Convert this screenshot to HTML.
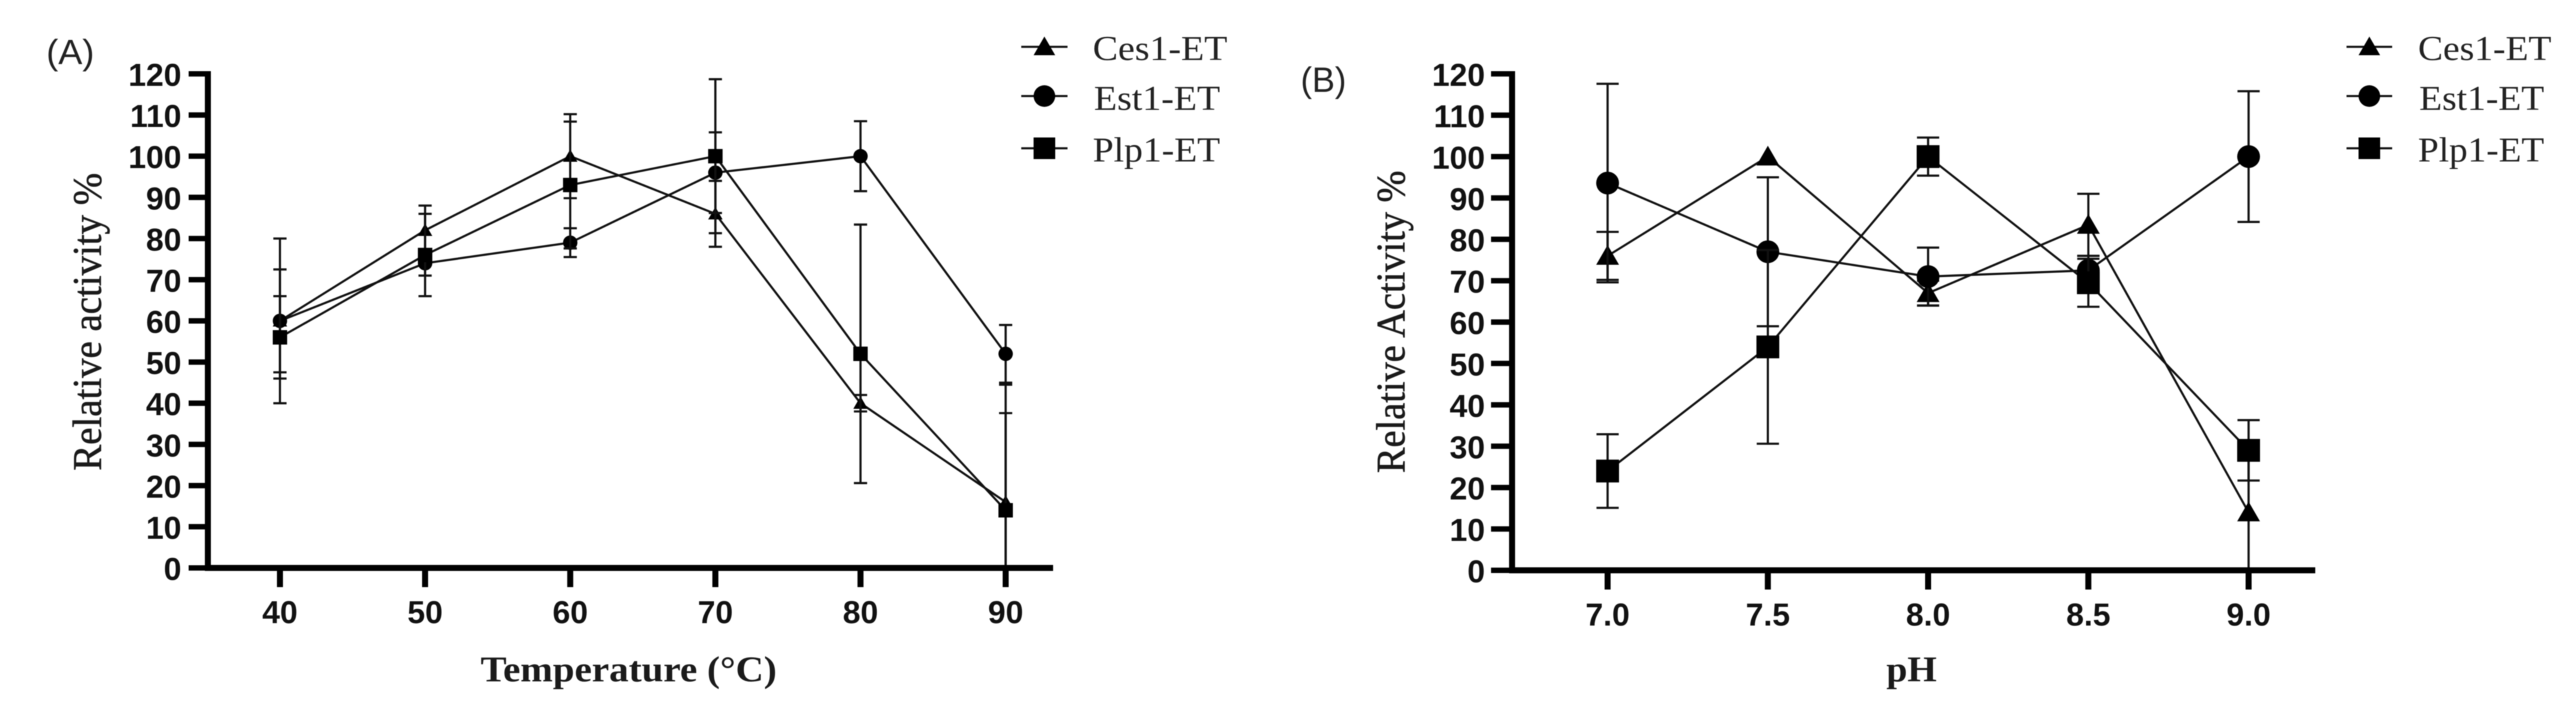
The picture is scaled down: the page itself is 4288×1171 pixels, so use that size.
<!DOCTYPE html>
<html lang="en">
<head>
<meta charset="utf-8">
<title>Relative activity vs temperature and pH</title>
<style>
html,body{margin:0;padding:0;background:#fff;width:4288px;height:1171px;overflow:hidden}
svg{display:block;filter:blur(0.7px)}
.tick{font-family:"Liberation Sans",sans-serif;font-weight:700;font-size:53px;fill:#111}
.title{font-family:"Liberation Serif",serif;font-size:60px;fill:#1a1a1a}
.y-title{font-family:"Liberation Serif",serif;font-size:68px;fill:#1a1a1a}
.legend-text{font-family:"Liberation Serif",serif;font-size:58px;fill:#222}
.panel-letter{font-family:"Liberation Sans",sans-serif;font-size:58px;fill:#222}
</style>
</head>
<body>
<svg id="figure" xmlns="http://www.w3.org/2000/svg" width="4288" height="1171" viewBox="0 0 4288 1171">
  <rect width="4288" height="1171" fill="#fff"/>
  <text class="panel-letter" x="77" y="107" textLength="80" lengthAdjust="spacingAndGlyphs">(A)</text>
  <text class="panel-letter" x="2165" y="153" textLength="76" lengthAdjust="spacingAndGlyphs">(B)</text>
  <g id="chart-a"></g>
  <g id="chart-b"></g>
  <text class="y-title" stroke="#1a1a1a" stroke-width="0.8" transform="translate(168,784) rotate(-90)" textLength="496" lengthAdjust="spacingAndGlyphs">Relative activity %</text>
  <text class="title" font-weight="700" x="800" y="1135" textLength="493" lengthAdjust="spacingAndGlyphs">Temperature (°C)</text>
  <text class="y-title" stroke="#1a1a1a" stroke-width="0.8" transform="translate(2338,788) rotate(-90)" textLength="504" lengthAdjust="spacingAndGlyphs">Relative Activity %</text>
  <text class="title" font-weight="700" x="3140" y="1135" textLength="84" lengthAdjust="spacingAndGlyphs">pH</text>
  <g id="legend-a">
    <text class="legend-text" x="1819" y="100" textLength="224" lengthAdjust="spacingAndGlyphs">Ces1-ET</text>
    <text class="legend-text" x="1821" y="183" textLength="210" lengthAdjust="spacingAndGlyphs">Est1-ET</text>
    <text class="legend-text" x="1819" y="269" textLength="212" lengthAdjust="spacingAndGlyphs">Plp1-ET</text>
  </g>
  <g id="legend-b">
    <text class="legend-text" x="4025" y="100" textLength="222" lengthAdjust="spacingAndGlyphs">Ces1-ET</text>
    <text class="legend-text" x="4027" y="183" textLength="208" lengthAdjust="spacingAndGlyphs">Est1-ET</text>
    <text class="legend-text" x="4025" y="269" textLength="210" lengthAdjust="spacingAndGlyphs">Plp1-ET</text>
  </g>
</svg>
<script>
// Shared axis values
const yTicks = [0, 10, 20, 30, 40, 50, 60, 70, 80, 90, 100, 110, 120];
const seriesNames = ['ces1', 'est1', 'plp1'];

// Panel A: temperature
const tempCategories = [40, 50, 60, 70, 80, 90];
const tempTickLabels = ['40', '50', '60', '70', '80', '90'];
const tempCes1 = [60, 82, 100, 86, 40, 16];
const tempEst1 = [60, 74, 79, 96, 100, 52];
const tempPlp1 = [56, 76, 93, 100, 52, 14];
const tempCes1Err = [12.5, 6, 10.2, 8, 2, 21.6];
const tempEst1Err = [20, 3, 3.5, 9.8, 8.5, 7];
const tempPlp1Err = [10, 10, 15.4, 18.7, 31.4, 30.5];

// Panel B: pH
const phCategories = [7, 7.5, 8, 8.5, 9];
const phTickLabels = ['7.0', '7.5', '8.0', '8.5', '9.0'];
const phCes1 = [76, 100, 67, 83.5, 14];
const phEst1 = [93.6, 77, 71, 72.5, 100];
const phPlp1 = [24, 54, 100, 69.5, 29];
const phCes1Err = [5.8, 0, 3, 7.5, 15];
const phEst1Err = [24, 18, 7, 3.5, 15.8];
const phPlp1Err = [8.9, 23.4, 4.6, 5.8, 7.3];

const NS = 'http://www.w3.org/2000/svg';

function make(parent, tag, props) {
  const el = document.createElementNS(NS, tag);
  for (const k in props) el.setAttribute(k, props[k]);
  parent.appendChild(el);
  return el;
}

function linearScale(d0, d1, r0, r1) {
  return function (v) { return r0 + (v - d0) * (r1 - r0) / (d1 - d0); };
}

function drawMarker(parent, kind, cx, cy, size, label) {
  const r = size / 2;
  let el;
  if (kind === 'ces1') {
    el = make(parent, 'polygon', {
      points: (cx - r) + ',' + (cy + r * 0.78) + ' ' + (cx + r) + ',' + (cy + r * 0.78) + ' ' + cx + ',' + (cy - r * 0.95),
      fill: '#000'
    });
  } else if (kind === 'est1') {
    el = make(parent, 'circle', { cx: cx, cy: cy, r: r, fill: '#000' });
  } else {
    el = make(parent, 'rect', { x: cx - r, y: cy - r, width: size, height: size, fill: '#000' });
  }
  
  
}

function drawAxes(g, cfg, x, y) {
  const xAxis = make(g, 'line', { x1: cfg.axisX - cfg.axisW / 2, x2: cfg.axisEnd, y1: y(0), y2: y(0), stroke: '#000', 'stroke-width': cfg.axisW });
  
  
  const yAxis = make(g, 'line', { x1: cfg.axisX, x2: cfg.axisX, y1: y(120) - 4.5, y2: y(0) + cfg.axisW / 2, stroke: '#000', 'stroke-width': cfg.axisW });
  
  

  yTicks.forEach(function (t) {
    const tick = make(g, 'line', { x1: cfg.tickLeft, x2: cfg.axisX, y1: y(t), y2: y(t), stroke: '#000', 'stroke-width': 9 });
    
    
    const lab = make(g, 'text', { x: cfg.yLabelRight, y: y(t) + 20, 'text-anchor': 'end', 'class': 'tick' });
    lab.textContent = String(t);
    
    
  });

  cfg.categories.forEach(function (c, i) {
    const tick = make(g, 'line', { x1: x(c), x2: x(c), y1: y(0), y2: y(0) + 32, stroke: '#000', 'stroke-width': 10 });
    
    
    const lab = make(g, 'text', { x: x(c), y: cfg.xLabelY, 'text-anchor': 'middle', 'class': 'tick' });
    lab.textContent = cfg.tickLabels[i];
    
    
  });
}

function drawSeries(g, cfg, x, y) {
  seriesNames.forEach(function (name, s) {
    const vals = cfg.values[s];
    const errs = cfg.errors[s];
    const pts = vals.map(function (v, i) { return x(cfg.categories[i]) + ',' + y(v); }).join(' ');
    const line = make(g, 'polyline', { points: pts, fill: 'none', stroke: '#111', 'stroke-width': 3.6 });
    
    

    vals.forEach(function (v, i) {
      const cx = x(cfg.categories[i]);
      if (errs[i] > 0) {
        const hi = y(v + errs[i]);
        const lo = y(Math.max(0, v - errs[i]));
        const stem = make(g, 'line', { x1: cx, x2: cx, y1: hi, y2: lo, stroke: '#111', 'stroke-width': 3.6 });
        
        
        const capTop = make(g, 'line', { x1: cx - cfg.cap, x2: cx + cfg.cap, y1: hi, y2: hi, stroke: '#111', 'stroke-width': 3.6 });
        
        
        const capBottom = make(g, 'line', { x1: cx - cfg.cap, x2: cx + cfg.cap, y1: lo, y2: lo, stroke: '#111', 'stroke-width': 3.6 });
        
        
      }
      drawMarker(g, name, cx, y(v), cfg.marker, cfg.id + '-' + name + '-point-' + i);
    });
  });
}

function drawLegend(g, id, x1, x2, rows) {
  const mid = (x1 + x2) / 2;
  seriesNames.forEach(function (name, s) {
    const ly = rows[s];
    const l = make(g, 'line', { x1: x1, x2: x2, y1: ly, y2: ly, stroke: '#111', 'stroke-width': 3.6 });
    
    
    drawMarker(g, name, mid, ly, 36, id + '-' + name + '-marker');
  });
}

const panelA = {
  id: 'temp', categories: tempCategories, tickLabels: tempTickLabels,
  values: [tempCes1, tempEst1, tempPlp1], errors: [tempCes1Err, tempEst1Err, tempPlp1Err],
  axisX: 346, axisW: 10, axisEnd: 1753, tickLeft: 314, yLabelRight: 302, xLabelY: 1038,
  cap: 11, marker: 24
};
const panelB = {
  id: 'ph', categories: phCategories, tickLabels: phTickLabels,
  values: [phCes1, phEst1, phPlp1], errors: [phCes1Err, phEst1Err, phPlp1Err],
  axisX: 2517, axisW: 10, axisEnd: 3854, tickLeft: 2482, yLabelRight: 2472, xLabelY: 1042,
  cap: 18.5, marker: 38
};

const xA = linearScale(40, 90, 466, 1674);
const yA = linearScale(0, 120, 946, 123);
const xB = linearScale(7, 9, 2676, 3743);
const yB = linearScale(0, 120, 950, 123);

const chartA = document.getElementById('chart-a');
const chartB = document.getElementById('chart-b');
drawSeries(chartA, panelA, xA, yA);
drawAxes(chartA, panelA, xA, yA);
drawSeries(chartB, panelB, xB, yB);
drawAxes(chartB, panelB, xB, yB);
drawLegend(document.getElementById('legend-a'), 'legend-a', 1700, 1777, [78, 160, 247]);
drawLegend(document.getElementById('legend-b'), 'legend-b', 3906, 3982, [78, 160, 247]);
</script>
</body>
</html>
